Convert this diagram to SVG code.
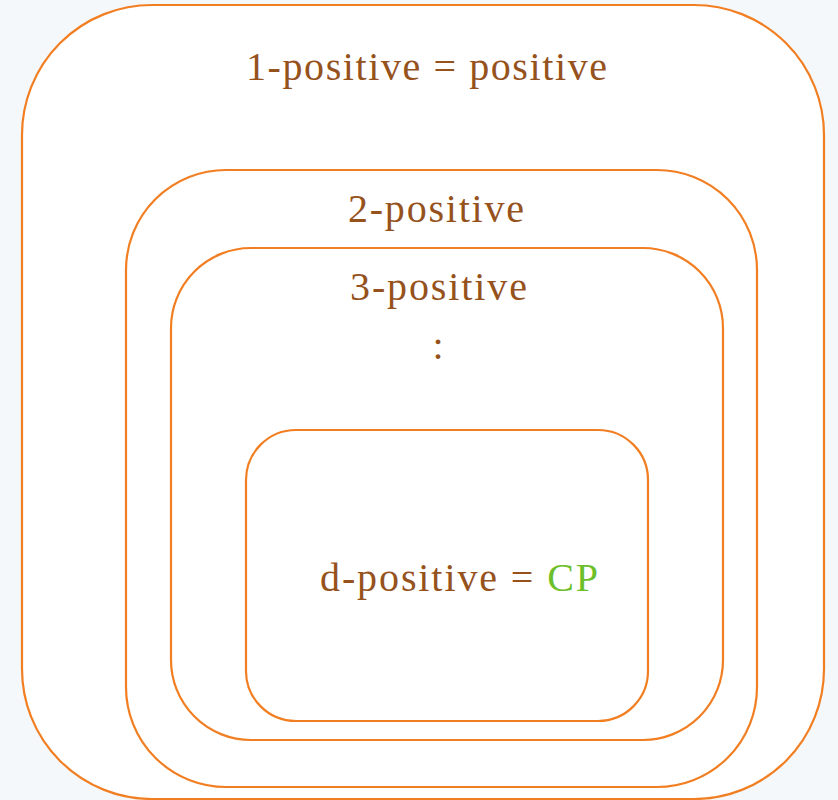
<svg xmlns="http://www.w3.org/2000/svg" width="838" height="800" viewBox="0 0 838 800">
<style>
.box{fill:#ffffff;stroke:#f27e22;stroke-width:2.2}
.lbl{font-family:"Liberation Serif","Times New Roman",serif;font-size:40px;fill:#96521c}
.cp{fill:#6cbf2a}
</style>
<rect x="0" y="0" width="838" height="800" fill="#f4f8fb"/>
<g id="level1">
<rect class="box" x="22" y="5" width="802" height="794" rx="130" ry="130"/>
<text class="lbl" x="246" y="80" textLength="361">1-positive = positive</text>
</g>
<g id="level2">
<rect class="box" x="126" y="170" width="631" height="617" rx="100" ry="100"/>
<text class="lbl" x="348" y="222" textLength="176">2-positive</text>
</g>
<g id="level3">
<rect class="box" x="171" y="248" width="552" height="492" rx="80" ry="80"/>
<text class="lbl" x="350" y="300" textLength="177">3-positive</text>
<text class="lbl" x="438" y="359" text-anchor="middle">:</text>
</g>
<g id="leveld">
<rect class="box" x="246" y="430" width="402" height="291" rx="50" ry="50"/>
<text class="lbl" x="320" y="591" textLength="278">d-positive = <tspan class="cp">CP</tspan></text>
</g>
<g id="connectors"/>
</svg>
